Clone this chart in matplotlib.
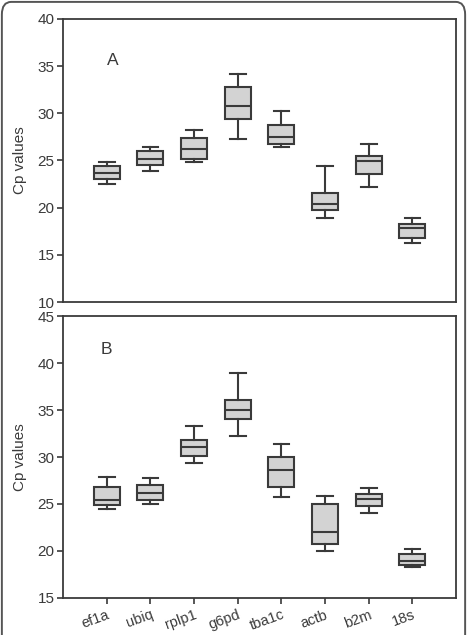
import matplotlib
matplotlib.use('Agg')
import matplotlib.pyplot as plt
from matplotlib.patches import FancyBboxPatch

plt.rcParams['font.family'] = ['Liberation Sans', 'DejaVu Sans']

genes = ['ef1a', 'ubiq', 'rplp1', 'g6pd', 'tba1c', 'actb', 'b2m', '18s']

# panel A: whisker low, q1, median, q3, whisker high
a_whislo = [22.56, 23.87, 24.82, 27.27, 26.45, 18.95, 22.24, 16.26]
a_q1 = [22.99, 24.47, 25.21, 29.35, 26.77, 19.77, 23.52, 16.76]
a_med = [23.66, 25.11, 26.24, 30.73, 27.48, 20.37, 24.90, 17.82]
a_q3 = [24.40, 25.96, 27.34, 32.75, 28.75, 21.57, 25.43, 18.28]
a_whishi = [24.86, 26.45, 28.26, 34.13, 30.20, 24.44, 26.77, 18.92]

# panel B
b_whislo = [24.43, 24.96, 29.40, 32.23, 25.71, 20.04, 24.04, 18.30]
b_q1 = [24.93, 25.46, 30.11, 34.08, 26.81, 20.71, 24.82, 18.55]
b_med = [25.43, 26.17, 31.03, 35.00, 28.65, 22.02, 25.50, 18.90]
b_q3 = [26.84, 26.99, 31.77, 36.03, 30.04, 25.04, 26.06, 19.65]
b_whishi = [27.87, 27.80, 33.26, 38.97, 31.42, 25.85, 26.67, 20.18]

dark = '#3a3a3a'
fill = '#d3d3d3'

fig = plt.figure(figsize=(4.67, 6.35), dpi=100)

# rounded frame round the whole picture
frame = FancyBboxPatch((0.004, -0.05), 0.992, 1.047,
                       boxstyle='round,pad=0,rounding_size=0.02',
                       transform=fig.transFigure, fill=False,
                       edgecolor='#555555', linewidth=1.4)
fig.patches.append(frame)


def make_stats(lo, q1, med, q3, hi):
    out = []
    for i in range(len(genes)):
        out.append({'whislo': lo[i], 'q1': q1[i], 'med': med[i],
                    'q3': q3[i], 'whishi': hi[i], 'fliers': []})
    return out


def draw_panel(ax, stats, ylim, letter, letter_pos, show_x):
    pos = list(range(1, len(genes) + 1))
    ax.bxp(stats, positions=pos, widths=0.6, patch_artist=True,
           showfliers=False,
           boxprops=dict(facecolor=fill, edgecolor=dark, linewidth=1.5),
           medianprops=dict(color=dark, linewidth=1.5),
           whiskerprops=dict(color=dark, linewidth=1.5),
           capprops=dict(color=dark, linewidth=1.5),
           capwidths=0.36)
    ax.set_xlim(0, 9)
    ax.set_ylim(*ylim)
    ax.set_yticks(range(ylim[0], ylim[1] + 1, 5))
    for s in ax.spines.values():
        s.set_color(dark)
        s.set_linewidth(1.3)
    ax.tick_params(axis='y', direction='out', length=4, width=1.2,
                   colors=dark, labelsize=11, pad=2)
    if show_x:
        ax.set_xticks(pos)
        ax.set_xticklabels(genes, rotation=20, fontsize=10.5, color=dark,
                           ha='right', rotation_mode='anchor')
        ax.tick_params(axis='x', direction='out', length=4, width=1.2,
                       colors=dark, pad=3)
    else:
        ax.set_xticks([])
    ax.set_ylabel('Cp values', fontsize=11, color=dark, labelpad=8)
    ax.text(letter_pos[0], letter_pos[1], letter, fontsize=12.5,
            color=dark, ha='center', va='center')


ax1 = fig.add_axes([0.135, 0.5244, 0.8415, 0.4457])
draw_panel(ax1, make_stats(a_whislo, a_q1, a_med, a_q3, a_whishi),
           (10, 40), 'A', (1.15, 35.6), False)

ax2 = fig.add_axes([0.135, 0.0583, 0.8415, 0.444])
draw_panel(ax2, make_stats(b_whislo, b_q1, b_med, b_q3, b_whishi),
           (15, 45), 'B', (1.0, 41.4), True)

fig.savefig('out.png', dpi=100)
